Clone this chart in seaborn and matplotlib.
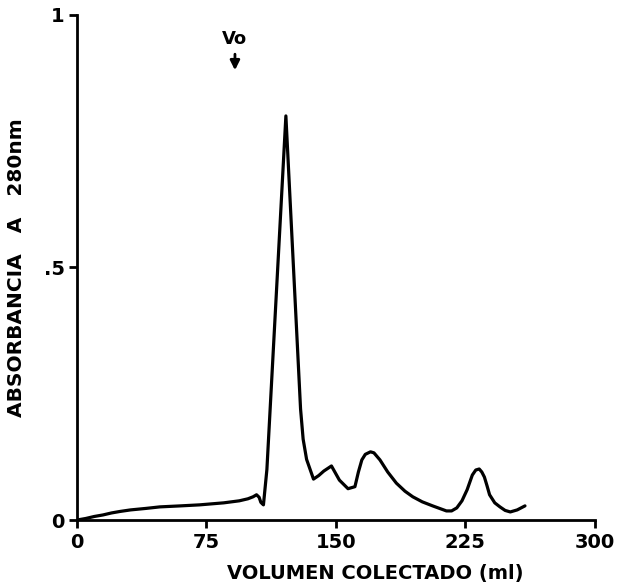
import pandas as pd
import seaborn as sns
import matplotlib.pyplot as plt
import numpy as np


# 데이터
volume = [0, 5, 10, 15, 20, 25, 31, 40, 48, 60, 71, 85, 94, 99, 102, 104, 105.5, 106.5, 108,
          110, 121, 129.5, 131, 133, 137, 140, 143, 147.4, 152, 157, 161, 163, 165, 167, 170,
          172, 175.5, 180, 185, 190, 194.5, 200, 206, 210, 214, 217, 220, 223, 226, 229, 231,
          233, 234.5, 236, 237.5, 239, 242, 245, 248, 251, 255, 259.5]
absorbance = [0, 0.003, 0.007, 0.010, 0.014, 0.017, 0.020, 0.023, 0.026, 0.028, 0.030, 0.034,
              0.038, 0.042, 0.046, 0.050, 0.045, 0.035, 0.030,
              0.10, 0.80, 0.22, 0.16, 0.12, 0.081, 0.088, 0.097, 0.107, 0.079, 0.062, 0.066,
              0.095, 0.119, 0.130, 0.135, 0.133, 0.119, 0.095, 0.073, 0.057, 0.046, 0.036,
              0.028, 0.023, 0.018, 0.018, 0.024, 0.038, 0.060, 0.089, 0.099, 0.101, 0.095,
              0.085, 0.068, 0.050, 0.034, 0.026, 0.019, 0.016, 0.020, 0.028]

x_ticks = [0, 75, 150, 225, 300]
x_labels = ['0', '75', '150', '225', '300']
y_ticks = [0, 0.5, 1]
y_labels = ['0', '.5', '1']

df = pd.DataFrame({'volumen': volume, 'abs': absorbance})

sns.set_style('ticks')
plt.rcParams['font.family'] = ['DejaVu Sans']
plt.rcParams['text.color'] = 'black'
plt.rcParams['axes.labelcolor'] = 'black'
plt.rcParams['xtick.color'] = 'black'
plt.rcParams['ytick.color'] = 'black'

fig = plt.figure(figsize=(6.18, 5.86), dpi=100)
ax = fig.add_axes([0.1246, 0.1126, 0.838, 0.862])

sns.lineplot(x='volumen', y='abs', data=df, color='black', linewidth=2.3, ax=ax)

ax.set_xlim(0, 300)
ax.set_ylim(0, 1)
ax.set_xticks(x_ticks)
ax.set_xticklabels(x_labels, fontsize=14, fontweight='bold')
ax.set_yticks(y_ticks)
ax.set_yticklabels(y_labels, fontsize=14, fontweight='bold')
ax.tick_params(direction='out', length=6, width=2, color='black', pad=3)

for s in ['top', 'right']:
    ax.spines[s].set_visible(False)
for s in ['left', 'bottom']:
    ax.spines[s].set_linewidth(2)
    ax.spines[s].set_color('black')

# 축 레이블 (원본 위치에 맞춤)
ax.set_xlabel('VOLUMEN COLECTADO (ml)', fontsize=14, fontweight='bold',
              va='center', ha='center')
ax.xaxis.set_label_coords(0.575, -0.105)
ax.set_ylabel('ABSORBANCIA   A   280nm', fontsize=14.5, fontweight='bold',
              va='center', ha='center')
ax.yaxis.set_label_coords(-0.116, 0.50)

# Vo 표시
ax.annotate('Vo', xy=(91.5, 0.885), xytext=(91.5, 0.952), ha='center', va='center',
            fontsize=13, fontweight='bold',
            arrowprops=dict(arrowstyle='-|>', color='black', lw=2, mutation_scale=14))

plt.savefig('out.png', dpi=100)
